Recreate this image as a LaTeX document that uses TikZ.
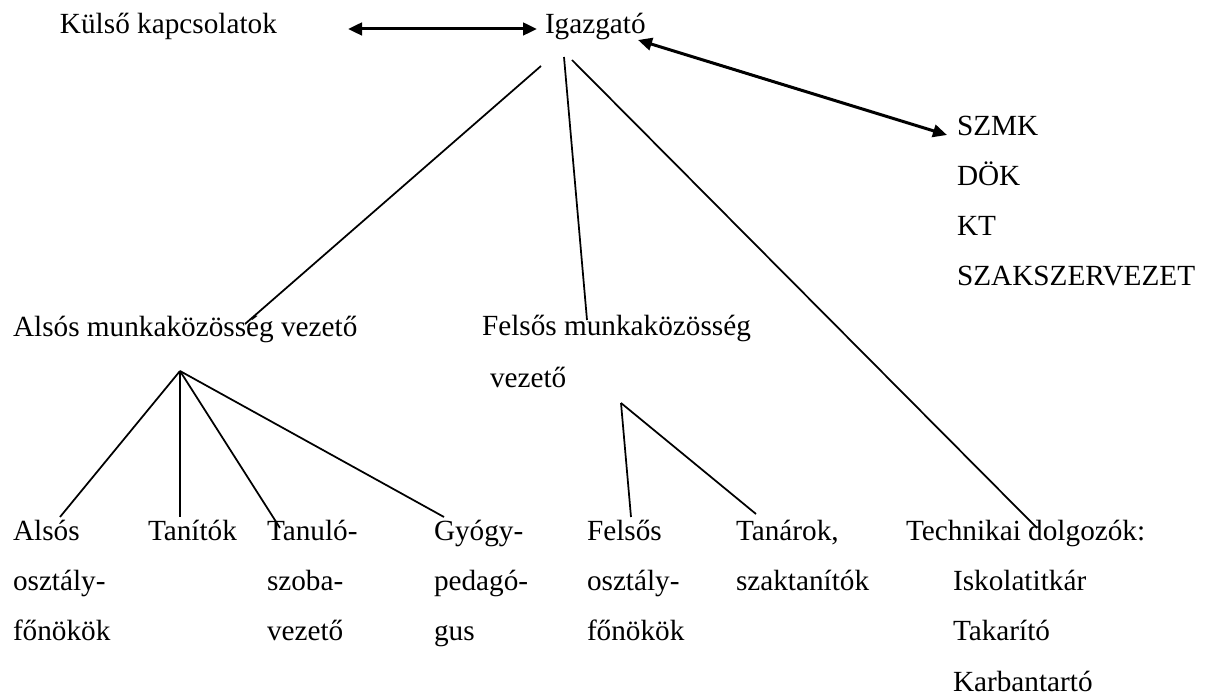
\documentclass[tikz,border=0pt]{standalone}
\usepackage{fontspec}
\setmainfont{Liberation Serif}
\usetikzlibrary{arrows.meta}
\begin{document}
\begin{tikzpicture}[x=0.4pt,y=-0.4pt,
  lbl/.style={anchor=base west,inner sep=0pt,outer sep=0pt,
              font=\fontsize{11.7}{14}\selectfont},
  edge/.style={line width=0.7pt},
  link/.style={line width=1.2pt,
    {Triangle[length=5.6pt,width=5pt]}-{Triangle[length=5.6pt,width=5pt]}}]
\useasboundingbox (0,0) rectangle (1207,698);

% top level
\node[lbl] (kulso) at (60,34) {Külső kapcsolatok};
\node[lbl] (ig) at (545,34) {Igazgató};

% partner bodies
\node[lbl] (szmk) at (957,136) {SZMK};
\node[lbl] (dok)  at (957,186) {DÖK};
\node[lbl] (kt)   at (957,236) {KT};
\node[lbl] (szak) at (957,286) {SZAKSZERVEZET};

% middle level
\node[lbl] (also)   at (13,337)  {Alsós munkaközösség vezető};
\node[lbl] (felso)  at (482,336) {Felsős munkaközösség};
\node[lbl] (felso2) at (490,388) {vezető};

% bottom level, lower school
\node[lbl] (aof1) at (13,541) {Alsós};
\node[lbl] (aof2) at (13,591) {osztály-};
\node[lbl] (aof3) at (13,641) {főnökök};
\node[lbl] (tan)  at (148,541) {Tanítók};
\node[lbl] (tsz1) at (267,541) {Tanuló-};
\node[lbl] (tsz2) at (267,591) {szoba-};
\node[lbl] (tsz3) at (267,641) {vezető};
\node[lbl] (gyp1) at (434,541) {Gyógy-};
\node[lbl] (gyp2) at (434,591) {pedagó-};
\node[lbl] (gyp3) at (434,641) {gus};

% bottom level, upper school
\node[lbl] (fof1) at (587,541) {Felsős};
\node[lbl] (fof2) at (587,591) {osztály-};
\node[lbl] (fof3) at (587,641) {főnökök};
\node[lbl] (tnr1) at (736,541) {Tanárok,};
\node[lbl] (tnr2) at (736,591) {szaktanítók};

% technical staff
\node[lbl] (tech) at (906,541) {Technikai dolgozók:};
\node[lbl] (isk)  at (953,591) {Iskolatitkár};
\node[lbl] (tak)  at (953,641) {Takarító};
\node[lbl] (karb) at (953,691) {Karbantartó};

% connector end points
\coordinate (kulsoR) at (348,29);
\coordinate (igL)    at (537,29);
\coordinate (igR)    at (638,40);
\coordinate (szmkL)  at (947,135);
\coordinate (igA)    at (541,66);
\coordinate (igB)    at (564,57);
\coordinate (igC)    at (572,60);
\coordinate (alsoT)  at (245,324);
\coordinate (felsoT) at (587,320);
\coordinate (techT)  at (1037,528);
\coordinate (hubA)   at (180,371);
\coordinate (hubF)   at (621,403);
\coordinate (aofT)   at (60,517);
\coordinate (tanT)   at (180,517);
\coordinate (tszT)   at (280,528);
\coordinate (gypT)   at (444,517);
\coordinate (fofT)   at (631,517);
\coordinate (tnrT)   at (756,514);

% two-way links
\draw[link] (kulsoR) -- (igL);
\draw[link] (igR) -- (szmkL);

% hierarchy
\draw[edge] (igA) -- (alsoT);
\draw[edge] (igB) -- (felsoT);
\draw[edge] (igC) -- (techT);
\draw[edge] (hubA) -- (aofT);
\draw[edge] (hubA) -- (tanT);
\draw[edge] (hubA) -- (tszT);
\draw[edge] (hubA) -- (gypT);
\draw[edge] (hubF) -- (fofT);
\draw[edge] (hubF) -- (tnrT);
\end{tikzpicture}
\end{document}
